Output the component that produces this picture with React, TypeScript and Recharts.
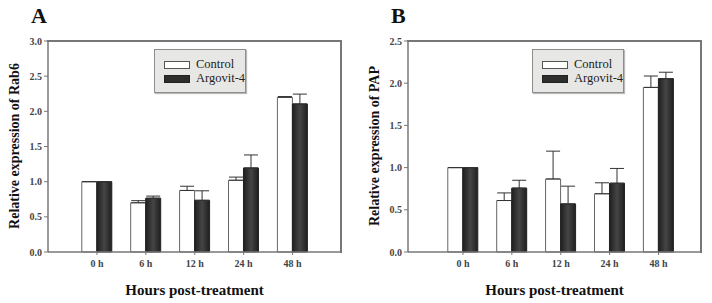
import { BarChart, Bar, XAxis, YAxis, ErrorBar } from "recharts";

const hours = ["0 h", "6 h", "12 h", "24 h", "48 h"];

const rabControl = [1.0, 0.7, 0.875, 1.02, 2.2];
const rabControlErr = [0, 0.03, 0.06, 0.045, 0.01];
const rabArgovit = [1.0, 0.765, 0.735, 1.195, 2.105];
const rabArgovitErr = [0, 0.03, 0.135, 0.185, 0.14];

const papControl = [1.0, 0.61, 0.865, 0.69, 1.95];
const papControlErr = [0, 0.09, 0.33, 0.13, 0.135];
const papArgovit = [1.0, 0.757, 0.57, 0.815, 2.055];
const papArgovitErr = [0, 0.093, 0.21, 0.175, 0.075];

const rabTicks = [0, 0.5, 1.0, 1.5, 2.0, 2.5, 3.0];
const papTicks = [0, 0.5, 1.0, 1.5, 2.0, 2.5];

const serif = "Liberation Serif, Times New Roman, serif";
const axisGray = "#777777";

function build(ctrl: number[], ctrlErr: number[], arg: number[], argErr: number[]) {
  return hours.map((h, i) => ({
    hour: h,
    control: ctrl[i],
    controlErr: [0, ctrlErr[i]],
    argovit: arg[i],
    argovitErr: [0, argErr[i]],
  }));
}

function LegendBox({ left }: { left: number }) {
  const sw = { width: 24, height: 6, display: "inline-block", marginRight: 6, flex: "none" as const };
  return (
    <div
      style={{
        position: "absolute",
        left,
        top: 49,
        width: 92,
        height: 44,
        background: "#e7e8e6",
        border: "1px solid #8c8c8c",
        boxShadow: "1px 1px 1px #bbb",
        fontFamily: serif,
        fontSize: 12.5,
        color: "#222",
        padding: "8px 0 0 9px",
        boxSizing: "border-box",
        lineHeight: "13px",
        whiteSpace: "nowrap",
      }}
    >
      <div style={{ display: "flex", alignItems: "center" }}>
        <span style={{ ...sw, background: "#fff", border: "1px solid #555" }} />
        Control
      </div>
      <div style={{ display: "flex", alignItems: "center", marginTop: 1 }}>
        <span style={{ ...sw, background: "#2e2e2e", border: "1px solid #222" }} />
        Argovit-4
      </div>
    </div>
  );
}

type PanelProps = {
  id: string;
  title: string;
  yLabel: string;
  data: any[];
  ticks: number[];
  width: number;
  right: number;
  padL: number;
  padR: number;
  legendLeft: number;
};

function Panel({ id, title, yLabel, data, ticks, width, right, padL, padR, legendLeft }: PanelProps) {
  const max = ticks[ticks.length - 1];
  const tickStyle = { fontFamily: serif, fontSize: 10, fontWeight: 700, fill: "#444" };
  const plotW = width - 48 - right;
  return (
    <div style={{ position: "relative", width, height: 303 }}>
      <BarChart
        width={width}
        height={303}
        data={data}
        margin={{ top: 41, right, bottom: 31, left: 8 }}
        barCategoryGap="19%"
        barGap={0}
        style={{ fontFamily: serif }}
      >
        <defs>
          <linearGradient id={`dark-${id}`} x1="0" y1="0" x2="1" y2="0">
            <stop offset="0%" stopColor="#1f1f1f" />
            <stop offset="50%" stopColor="#454545" />
            <stop offset="100%" stopColor="#1f1f1f" />
          </linearGradient>
        </defs>
        <XAxis
          dataKey="hour"
          height={20}
          padding={{ left: padL, right: padR }}
          axisLine={{ stroke: axisGray, strokeWidth: 1.5 }}
          tickLine={{ stroke: axisGray, strokeWidth: 1 }}
          tickSize={3}
          tick={tickStyle}
          tickMargin={5}
          interval={0}
        />
        <YAxis
          width={40}
          domain={[0, max]}
          ticks={ticks}
          axisLine={{ stroke: axisGray, strokeWidth: 1.5 }}
          tickLine={{ stroke: axisGray, strokeWidth: 1 }}
          tickSize={4}
          tickMargin={2}
          tick={tickStyle}
          tickFormatter={(v: number) => v.toFixed(1)}
          interval={0}
        />
        <Bar dataKey="control" fill="#ffffff" stroke="#666" strokeWidth={1} isAnimationActive={false}>
          <ErrorBar dataKey="controlErr" width={7} stroke="#333" strokeWidth={1} direction="y" />
        </Bar>
        <Bar dataKey="argovit" fill={`url(#dark-${id})`} stroke="#222" strokeWidth={1} isAnimationActive={false}>
          <ErrorBar dataKey="argovitErr" width={7} stroke="#333" strokeWidth={1} direction="y" />
        </Bar>
      </BarChart>
      {/* plot frame: top and right edges */}
      <div style={{ position: "absolute", left: 47, top: 40, width: plotW + 2, height: 2, background: axisGray }} />
      <div style={{ position: "absolute", left: 48 + plotW - 1, top: 40, width: 2, height: 213, background: axisGray }} />
      <LegendBox left={legendLeft} />
      <div
        style={{
          position: "absolute",
          left: 31,
          top: 3,
          fontFamily: serif,
          fontWeight: 700,
          fontSize: 22,
          color: "#111",
        }}
      >
        {title}
      </div>
      <div
        style={{
          position: "absolute",
          left: 15,
          top: 146,
          transform: "translate(-50%, -50%) rotate(-90deg)",
          whiteSpace: "nowrap",
          fontFamily: serif,
          fontWeight: 700,
          fontSize: 14,
          color: "#111",
        }}
      >
        {yLabel}
      </div>
      <div
        style={{
          position: "absolute",
          left: 48,
          width: plotW,
          top: 282,
          textAlign: "center",
          fontFamily: serif,
          fontWeight: 700,
          fontSize: 15,
          color: "#111",
        }}
      >
        Hours post-treatment
      </div>
    </div>
  );
}

export default function App() {
  const rabData = build(rabControl, rabControlErr, rabArgovit, rabArgovitErr);
  const papData = build(papControl, papControlErr, papArgovit, papArgovitErr);
  return (
    <div style={{ position: "absolute", left: 0, top: 0, width: 712, height: 303, background: "#fff", display: "flex" }}>
      <Panel
        id="a"
        title="A"
        yLabel="Relative expression of Rab6"
        data={rabData}
        ticks={rabTicks}
        width={360}
        right={19}
        padL={24.5}
        padR={24}
        legendLeft={154}
      />
      <Panel
        id="b"
        title="B"
        yLabel="Relative expression of PAP"
        data={papData}
        ticks={papTicks}
        width={352}
        right={11}
        padL={30.5}
        padR={18}
        legendLeft={172}
      />
    </div>
  );
}
